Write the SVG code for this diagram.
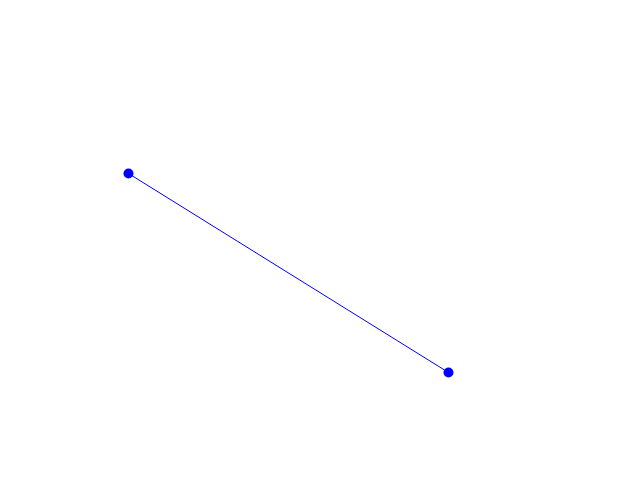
<svg xmlns="http://www.w3.org/2000/svg" width="640" height="480" viewBox="0 0 640 480">
<style>.pt{fill:#0000ff}.edge{stroke:#0000ff;stroke-width:1;fill:none}</style>
<rect width="640" height="480" fill="#ffffff"/>
<g id="connectors"><line class="edge" x1="128.5" y1="173.5" x2="448.5" y2="372.5"/></g>
<g id="node-a"><circle class="pt" cx="128.5" cy="173.5" r="5"/></g>
<g id="node-b"><circle class="pt" cx="448.5" cy="372.5" r="5"/></g>
</svg>
